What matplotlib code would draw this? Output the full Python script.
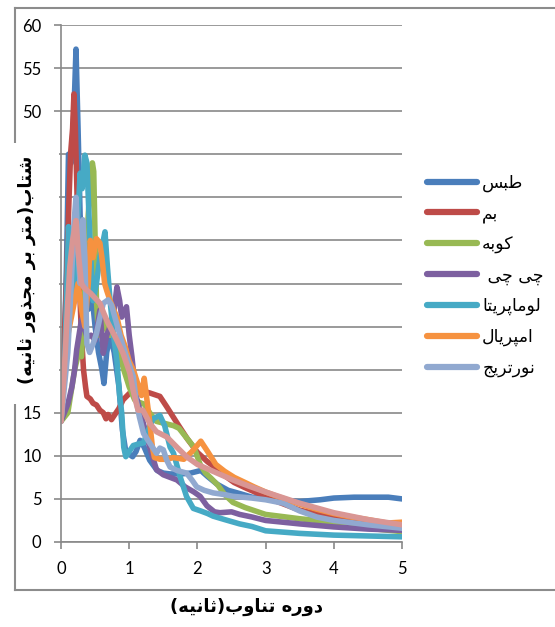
import matplotlib
matplotlib.use('Agg')
import matplotlib.pyplot as plt
from matplotlib.lines import Line2D
from matplotlib.patches import Rectangle

# axis texts and series names (logical Persian order)
ylabel_txt = 'شتاب(متر بر مجذور ثانیه)'
xlabel_txt = 'دوره تناوب(ثانیه)'
names = ['طبس', 'بم', 'کوبه', 'چی چی ', 'لوماپریتا', 'امپریال', 'نورتریج']
colors = ['#4a7ebb', '#be4b48', '#98b954', '#7d60a0', '#46aac5', '#f69240', '#91a9d0', '#d99694']

xticks = [0, 1, 2, 3, 4, 5]
yticks = [0, 5, 10, 15, 20, 25, 30, 35, 40, 45, 50, 55, 60]

# spectral acceleration vs period for each record
T_tabas = [0, 0.04, 0.08, 0.11, 0.15, 0.19, 0.22, 0.25, 0.28, 0.32, 0.36, 0.40, 0.45, 0.50, 0.55, 0.60, 0.63,
           0.67, 0.72, 0.78, 0.85, 0.90, 0.95, 1.0, 1.05, 1.1, 1.16, 1.22, 1.3, 1.41, 1.5, 1.6, 1.76, 1.9, 2.05,
           2.15, 2.29, 2.45, 2.63, 2.8, 3.0, 3.3, 3.5, 3.8, 4.0, 4.3, 4.6, 4.8, 5.0]
sa_tabas = [14.5, 20, 32, 45, 44, 50, 57.2, 48, 38, 33, 30, 27, 29, 25, 22, 20, 18.4,
            22, 24, 22, 18, 13, 10.5, 10.2, 9.9, 10.5, 11.8, 11, 9.5, 8.3, 8.0, 7.9, 7.9, 8.0, 8.3,
            7.6, 6.7, 6.0, 5.6, 5.2, 5.0, 4.8, 4.7, 4.9, 5.1, 5.2, 5.2, 5.2, 5.0]

T_bam = [0, 0.04, 0.08, 0.11, 0.14, 0.17, 0.19, 0.21, 0.23, 0.26, 0.30, 0.33, 0.36, 0.38, 0.43, 0.47, 0.52,
         0.57, 0.62, 0.66, 0.69, 0.74, 0.79, 0.85, 0.91, 1.01, 1.1, 1.2, 1.3, 1.45, 1.55, 1.71, 1.85, 2.0,
         2.15, 2.27, 2.4, 2.54, 2.7, 2.9, 3.0, 3.5, 4.0, 4.5, 5.0]
sa_bam = [14, 22, 30, 38, 45, 48, 52, 48, 42, 32, 24, 20, 18, 16.9, 16.6, 16.1, 15.9,
          15.3, 15.0, 14.3, 14.8, 14.2, 14.8, 15.5, 16.5, 17.3, 17.8, 17.5, 17.3, 16.9, 15.7, 13.7, 12.0, 10.4,
          9.3, 8.6, 7.7, 6.9, 6.3, 5.6, 5.2, 3.7, 2.8, 2.2, 1.8]

T_kobe = [0, 0.05, 0.1, 0.14, 0.2, 0.26, 0.30, 0.33, 0.36, 0.40, 0.44, 0.46, 0.48, 0.50, 0.52, 0.55, 0.60,
          0.65, 0.70, 0.78, 0.85, 0.92, 1.0, 1.08, 1.15, 1.22, 1.3, 1.4, 1.5, 1.65, 1.73, 1.85, 1.95, 2.04,
          2.12, 2.2, 2.3, 2.4, 2.52, 2.7, 3.0, 3.5, 4.0, 4.5, 5.0]
sa_kobe = [14, 14.5, 15, 17, 20, 22, 21.5, 26, 32, 38, 43, 44, 43, 35, 28, 24, 26,
           25, 24, 24, 22, 20, 18, 16.5, 16.2, 16, 15, 14, 13.8, 13.5, 13.2, 12, 11, 9.0,
           8.0, 7.4, 6.6, 5.5, 4.6, 4.0, 3.2, 2.7, 2.3, 1.6, 1.2]

T_chichi = [0, 0.05, 0.1, 0.16, 0.2, 0.23, 0.30, 0.34, 0.38, 0.44, 0.50, 0.57, 0.62, 0.67, 0.72, 0.78, 0.82,
            0.86, 0.89, 0.96, 1.0, 1.04, 1.1, 1.2, 1.3, 1.4, 1.5, 1.6, 1.7, 1.82, 1.95, 2.04, 2.14, 2.25,
            2.33, 2.5, 2.62, 2.8, 3.0, 3.5, 4.0, 4.5, 5.0]
sa_chichi = [14, 15, 16, 18, 20, 22.3, 25.8, 25, 23.8, 24, 23.4, 26.9, 21.9, 24, 25, 27, 29.6,
             28, 26.1, 27.3, 24, 21.5, 17, 14, 11, 8.4, 7.8, 7.5, 7.2, 6.4, 5.8, 5.3, 4.2, 3.5,
             3.4, 3.5, 3.2, 2.9, 2.5, 2.1, 1.75, 1.5, 1.35]

T_loma = [0, 0.05, 0.08, 0.11, 0.15, 0.2, 0.25, 0.28, 0.31, 0.35, 0.38, 0.40, 0.43, 0.47, 0.52, 0.57, 0.62,
          0.645, 0.68, 0.72, 0.77, 0.82, 0.86, 0.89, 0.92, 0.95, 1.0, 1.06, 1.15, 1.21, 1.28, 1.35, 1.45,
          1.52, 1.6, 1.65, 1.75, 1.84, 1.94, 2.05, 2.15, 2.23, 2.4, 2.62, 2.8, 3.0, 3.5, 4.0, 4.5, 5.0]
sa_loma = [14, 20, 28, 36.6, 30, 28, 38, 42.8, 41, 44.9, 44, 40, 34, 28, 30, 33, 35,
           36, 32, 28, 24, 21, 17, 15, 11, 9.9, 10.5, 11.2, 11.4, 11.5, 13, 14.3, 14.7,
           13.5, 11.0, 10.3, 7.5, 5.3, 3.9, 3.6, 3.3, 3.0, 2.6, 2.1, 1.8, 1.3, 1.0, 0.8, 0.7, 0.6]

T_imperial = [0, 0.05, 0.1, 0.15, 0.2, 0.25, 0.3, 0.35, 0.40, 0.43, 0.47, 0.52, 0.57, 0.6, 0.64, 0.67, 0.72,
              0.77, 0.82, 0.88, 0.94, 1.0, 1.06, 1.12, 1.18, 1.22, 1.26, 1.3, 1.34, 1.37, 1.45, 1.55, 1.65,
              1.8, 1.92, 2.05, 2.15, 2.27, 2.4, 2.54, 2.7, 2.83, 3.0, 3.17, 3.5, 3.75, 4.0, 4.25, 4.5,
              4.78, 5.0]
sa_imperial = [14, 20, 24, 26, 28, 30, 27, 25, 30, 35, 33, 35.2, 34.7, 33, 30, 29.2, 28,
               27, 26.1, 24, 22.7, 21, 20, 18.5, 17, 19, 16.5, 14, 11, 9.8, 9.6, 9.6, 9.8,
               9.6, 10.5, 11.7, 10.5, 9.0, 8.2, 7.5, 6.9, 6.4, 5.8, 5.3, 4.4, 3.8, 3.3, 2.9, 2.6,
               2.2, 2.3]

T_north = [0, 0.05, 0.1, 0.15, 0.19, 0.22, 0.25, 0.28, 0.32, 0.35, 0.38, 0.42, 0.47, 0.52, 0.57, 0.62, 0.69,
           0.74, 0.79, 0.87, 0.96, 1.06, 1.1, 1.15, 1.21, 1.3, 1.4, 1.45, 1.5, 1.55, 1.6, 1.7, 1.84, 1.92,
           1.99, 2.1, 2.23, 2.4, 2.52, 2.8, 3.0, 3.26, 3.5, 3.75, 4.0, 4.5, 5.0]
sa_north = [14, 18, 22, 30, 37, 40, 34, 30, 37.4, 33, 23, 22, 23, 24.2, 26, 27.7, 28.1,
            27.5, 26.1, 23.8, 21.5, 19.2, 16.5, 14.5, 12.6, 11.5, 10.3, 10.9, 10.7, 9.5, 8.7, 8.3, 8.0, 7.2,
            6.4, 6.0, 5.7, 5.5, 5.3, 5.1, 4.9, 4.5, 3.6, 2.9, 2.5, 2.0, 1.6]

T_other = [0, 0.05, 0.1, 0.13, 0.17, 0.22, 0.26, 0.3, 0.33, 0.38, 0.43, 0.5, 0.57, 0.63, 0.69, 0.75, 0.82,
           0.91, 1.01, 1.06, 1.09, 1.13, 1.2, 1.3, 1.4, 1.55, 1.7, 1.84, 2.0, 2.23, 2.52, 2.75, 3.0, 3.5,
           4.0, 4.5, 5.0]
sa_other = [14, 20, 28, 32, 35, 37.3, 33, 30, 29.6, 29.2, 28.9, 28.3, 27.7, 26.5, 25.4, 24.5, 23.4,
            21.9, 19.6, 17.5, 16.5, 15.3, 15.3, 13.8, 12.8, 12.2, 11, 9.9, 9.0, 8.2, 7.2, 6.5, 5.8, 4.5,
            3.4, 2.6, 2.0]

periods = [T_tabas, T_bam, T_kobe, T_chichi, T_loma, T_imperial, T_north, T_other]
accels = [sa_tabas, sa_bam, sa_kobe, sa_chichi, sa_loma, sa_imperial, sa_north, sa_other]

# Arabic presentation forms: isolated, final, initial, medial
FORMS = {
    'ا': '\uFE8D\uFE8E', 'د': '\uFEA9\uFEAA', 'ذ': '\uFEAB\uFEAC', 'ر': '\uFEAD\uFEAE', 'و': '\uFEED\uFEEE',
    'ب': '\uFE8F\uFE90\uFE91\uFE92', 'ت': '\uFE95\uFE96\uFE97\uFE98', 'ث': '\uFE99\uFE9A\uFE9B\uFE9C',
    'ج': '\uFE9D\uFE9E\uFE9F\uFEA0', 'س': '\uFEB1\uFEB2\uFEB3\uFEB4', 'ش': '\uFEB5\uFEB6\uFEB7\uFEB8',
    'ط': '\uFEC1\uFEC2\uFEC3\uFEC4', 'ل': '\uFEDD\uFEDE\uFEDF\uFEE0', 'م': '\uFEE1\uFEE2\uFEE3\uFEE4',
    'ن': '\uFEE5\uFEE6\uFEE7\uFEE8', 'ه': '\uFEE9\uFEEA\uFEEB\uFEEC', 'پ': '\uFB56\uFB57\uFB58\uFB59',
    'چ': '\uFB7A\uFB7B\uFB7C\uFB7D', 'ک': '\uFB8E\uFB8F\uFB90\uFB91', 'ی': '\uFBFC\uFBFD\uFBFE\uFBFF',
}


def shape(text):
    # join letters and flip to visual (left-to-right) order
    out = []
    for i, ch in enumerate(text):
        if ch not in FORMS:
            out.append(ch)
            continue
        prev = text[i - 1] if i > 0 else ''
        nxt = text[i + 1] if i + 1 < len(text) else ''
        jp = prev in FORMS and len(FORMS[prev]) == 4
        jn = len(FORMS[ch]) == 4 and nxt in FORMS
        f = FORMS[ch]
        if jp and jn:
            out.append(f[3])
        elif jn:
            out.append(f[2])
        elif jp:
            out.append(f[1])
        else:
            out.append(f[0])
    vis = ''.join(out)[::-1]
    return vis.translate(str.maketrans('()', ')('))


grid_c = '#898989'
fig = plt.figure(figsize=(5.55, 6.27), dpi=100)
ax = fig.add_axes([61 / 555, 85 / 627, 341 / 555, 517 / 627])

for T, sa, c in zip(periods, accels, colors):
    ax.plot(T, sa, color=c, lw=4, solid_joinstyle='round', solid_capstyle='round')

ax.set_xlim(0, 5)
ax.set_ylim(0, 60)
ax.set_xticks(xticks)
ax.set_yticks(yticks)
ax.set_yticklabels(['' if 20 <= v <= 45 else str(v) for v in yticks])
ax.yaxis.grid(True, color=grid_c, lw=1.2)
ax.set_axisbelow(True)
for s in ['top', 'right']:
    ax.spines[s].set_visible(False)
for s in ['left', 'bottom']:
    ax.spines[s].set_color(grid_c)
    ax.spines[s].set_linewidth(1.2)
ax.tick_params(axis='both', colors=grid_c, width=1.2, length=5, labelcolor='black',
               labelsize=12, pad=9)
for lab in ax.get_xticklabels() + ax.get_yticklabels():
    lab.set_family('Lato')

# chart frame
for xs, ys in [([15, 555], [8, 8]), ([15, 555], [590, 590]), ([15, 15], [8, 590])]:
    fig.add_artist(Line2D([x / 555 for x in xs], [1 - y / 627 for y in ys],
                          transform=fig.transFigure, color='#8c8c8c', lw=1.5))

# box behind the vertical axis title
fig.add_artist(Rectangle((0, 1 - 404 / 627), 59 / 555, 261 / 627, transform=fig.transFigure,
                         facecolor='white', edgecolor='none', zorder=5))
fig.text(27 / 555, 1 - 270 / 627, shape(ylabel_txt), rotation=90, ha='center', va='center',
         fontsize=13, fontweight='bold', family='DejaVu Sans', zorder=6)
fig.text(247 / 555, 1 - 607 / 627, shape(xlabel_txt), ha='center', va='center',
         fontsize=13, fontweight='bold', family='DejaVu Sans')

handles = [Line2D([], [], color=c, lw=4.5, solid_capstyle='round') for c in colors[:7]]
leg = ax.legend(handles, [shape(n) for n in names], loc='upper left',
                bbox_to_anchor=(411 / 555, 1 - 158 / 627), bbox_transform=fig.transFigure,
                frameon=False, handlelength=2.9, handletextpad=0.3, labelspacing=0.72,
                prop={'family': 'DejaVu Sans', 'size': 12.5})

fig.savefig('out.png', dpi=100)
